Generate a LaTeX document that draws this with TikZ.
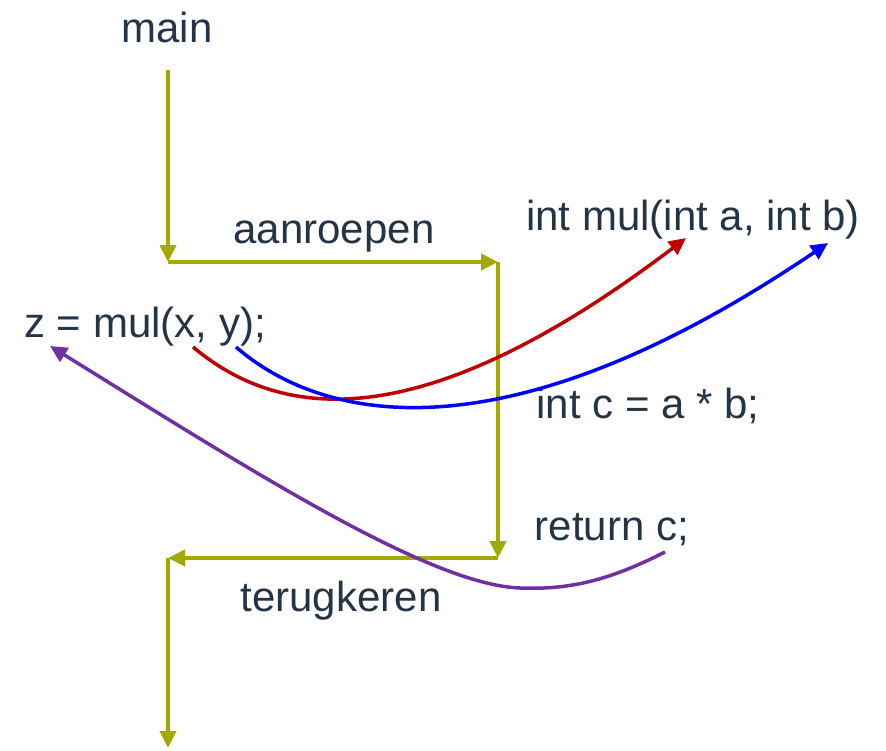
\documentclass[tikz,border=0pt]{standalone}
\usepackage{fontspec}
\setmainfont{Liberation Sans}
\usetikzlibrary{arrows.meta}
\definecolor{txt}{HTML}{243447}
\definecolor{olive}{HTML}{A2AA00}
\definecolor{myred}{HTML}{C00000}
\definecolor{myblue}{HTML}{0000FF}
\definecolor{mypurple}{HTML}{7030A0}
\tikzset{
  lbl/.style={text=txt, inner sep=0pt, font=\fontsize{42}{50}\selectfont},
  flow/.style={draw=olive, line width=4pt, -{Triangle[length=17pt,width=16pt]}},
  curv/.style={line width=3.5pt, -{Triangle[length=17pt,width=16pt]}}
}
\begin{document}
\begin{tikzpicture}[x=1pt,y=-1pt]
\useasboundingbox (0,0) rectangle (886,750);
% labels
\node[lbl, anchor=base] (main) at (167,42) {main};
\node[lbl, anchor=base] (call) at (334,243) {aanroepen};
\node[lbl, anchor=base] (sig) at (693,230) {int mul(int a, int b)};
\node[lbl, anchor=base] (z) at (145,337) {z = mul(x, y);};
\node[lbl, anchor=base] (mulc) at (648,418) {int c = a * b;};
\node[lbl, anchor=base] (ret) at (612,540) {return c;};
\node[lbl, anchor=base] (back) at (341,611) {terugkeren};
% flow corners
\coordinate (f0) at (168,70);
\coordinate (f1) at (168,262);
\coordinate (f2) at (498,262);
\coordinate (f3) at (498,558);
\coordinate (f4) at (168,558);
\coordinate (f5) at (168,748);
\draw[flow] (f0) -- (f1);
\draw[flow] (f1) -- (f2);
\draw[flow] (f2) -- (f3);
\draw[flow] (f3) -- (f4);
\draw[flow] (f4) -- (f5);
% curves
\coordinate (r0) at (193,347);
\coordinate (r1) at (686,238);
\coordinate (b0) at (236,347);
\coordinate (b1) at (828,243);
\coordinate (p0) at (665,552);
\coordinate (pm) at (520,588);
\coordinate (p1) at (50,346);
\draw[curv, myred] (r0) .. controls (280,420) and (420,440) .. (r1);
\draw[curv, myblue] (b0) .. controls (320,420) and (500,465) .. (b1);
\draw[curv, mypurple] (p0) .. controls (610,580) and (570,590) .. (pm)
  .. controls (430,585) and (250,470) .. (p1);
\end{tikzpicture}
\end{document}
